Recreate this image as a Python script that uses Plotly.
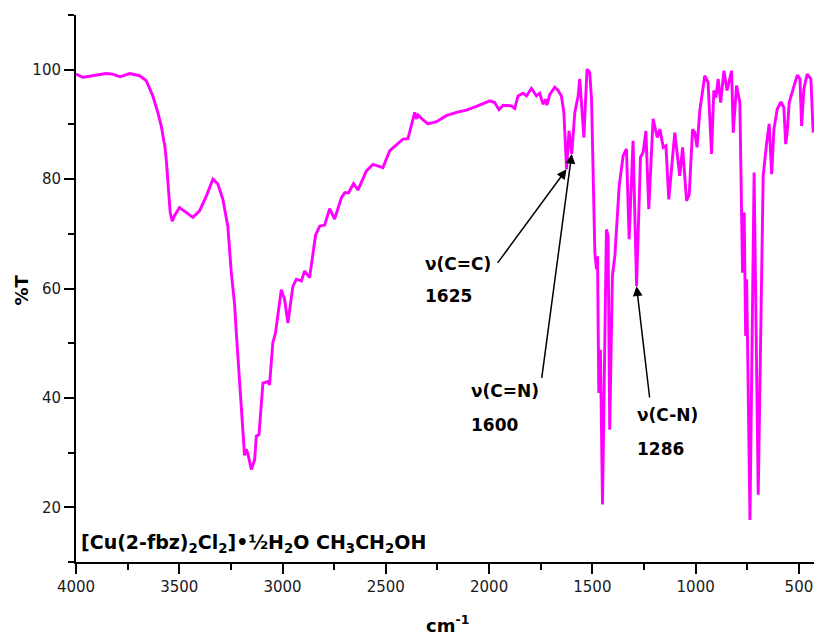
import plotly.graph_objects as go

# FT-IR spectrum of the copper complex: wavenumber (cm-1) and transmittance (%T)
wavenumber = [
    4000, 3967, 3935, 3902, 3854, 3822, 3786, 3741, 3692, 3660, 3628, 3604, 3587, 3575,
    3571, 3563, 3555, 3544, 3534, 3523, 3499, 3466, 3434, 3402, 3369, 3337, 3313, 3289,
    3265, 3248, 3232, 3224, 3208, 3195, 3187, 3184, 3176, 3168, 3151, 3135, 3127, 3114,
    3095, 3071, 3063, 3047, 3034, 3022, 3006, 2990, 2974, 2950, 2933, 2909, 2893, 2869,
    2840, 2820, 2796, 2772, 2748, 2715, 2699, 2680, 2656, 2635, 2594, 2562, 2538, 2514,
    2481, 2449, 2417, 2393, 2376, 2360, 2352, 2344, 2328, 2296, 2255, 2207, 2158, 2110,
    2061, 1997, 1973, 1952, 1932, 1892, 1876, 1860, 1836, 1819, 1795, 1771, 1755, 1739,
    1725, 1720, 1706, 1682, 1666, 1650, 1638, 1625, 1613, 1600, 1585, 1569, 1561, 1541,
    1526, 1513, 1504, 1496, 1488, 1480, 1475, 1469, 1461, 1451, 1440, 1432, 1424, 1416,
    1403, 1391, 1370, 1351, 1335, 1322, 1303, 1286, 1267, 1254, 1241, 1227, 1206, 1186,
    1173, 1157, 1144, 1130, 1101, 1077, 1063, 1044, 1031, 1015, 1004, 993, 980, 956,
    940, 923, 912, 902, 891, 879, 863, 848, 826, 818, 802, 786, 773, 765,
    758, 753, 737, 717, 697, 673, 656, 644, 632, 621, 605, 587, 573, 564,
    557, 547, 528, 508, 495, 487, 476, 460, 442, 431,
]
transmittance = [
    99.2, 98.6, 98.8, 99.0, 99.3, 99.2, 98.7, 99.3, 98.9, 98.0, 95.2, 92.2, 89.7, 87.0,
    86.4, 83.6, 78.8, 73.9, 72.3, 73.3, 74.8, 73.9, 73.0, 74.2, 76.9, 80.0, 79.1, 76.3,
    71.4, 62.9, 57.0, 52.0, 42.1, 34.8, 29.9, 29.5, 30.6, 29.8, 26.9, 28.7, 33.0, 33.3,
    42.7, 43.0, 42.4, 50.1, 51.9, 55.6, 59.8, 58.0, 53.7, 60.4, 61.7, 61.4, 63.2, 62.0,
    69.8, 71.4, 71.6, 74.6, 72.7, 76.6, 77.5, 77.5, 79.2, 78.0, 81.5, 82.7, 82.4, 82.1,
    85.2, 86.2, 87.3, 87.4, 89.7, 92.2, 91.0, 91.7, 91.1, 90.1, 90.5, 91.6, 92.2, 92.6,
    93.3, 94.3, 94.0, 92.7, 93.5, 93.4, 92.9, 95.2, 95.7, 95.2, 96.6, 95.2, 95.7, 93.7,
    94.6, 93.5, 95.5, 96.8, 96.2, 95.2, 92.2, 81.8, 88.8, 84.6, 92.2, 95.2, 98.3, 87.6,
    100.1, 99.5, 94.6, 80.6, 66.6, 63.5, 65.9, 40.9, 48.8, 20.5, 47.0, 70.8, 69.6, 34.2,
    62.3, 66.0, 78.8, 84.3, 85.5, 69.0, 87.0, 60.4, 84.0, 84.9, 88.8, 74.5, 91.0, 87.6,
    89.1, 85.8, 86.1, 76.3, 88.5, 80.6, 85.8, 76.0, 77.2, 89.1, 88.5, 85.8, 92.5, 98.9,
    97.7, 84.6, 96.2, 94.9, 98.3, 94.0, 99.8, 96.2, 99.8, 88.5, 97.1, 94.0, 62.9, 73.9,
    51.3, 61.7, 17.7, 81.2, 22.3, 80.6, 86.7, 90.1, 80.9, 89.1, 92.8, 94.1, 93.1, 86.4,
    88.5, 94.0, 96.5, 99.0, 98.3, 89.7, 96.5, 99.2, 98.3, 88.5,
]

# Assigned bands: label, wavenumber, tail of the arrow (wavenumber, %T), text anchor
band_labels = ["\u03bd(C=C)", "\u03bd(C=N)", "\u03bd(C-N)"]
band_positions = [1625, 1600, 1286]
arrow_tails = [(1964, 64.4), (1746, 43.4), (1222, 39.8)]
label_anchor = [(2322, 64.4, 58.6), (2098, 41.2, 35.1), (1296, 36.8, 30.7)]

compound = ("[Cu(2-fbz)<sub>2</sub>Cl<sub>2</sub>]\u2022\u00bdH<sub>2</sub>O "
            "CH<sub>3</sub>CH<sub>2</sub>OH")

FONT = "DejaVu Sans"
MAGENTA = "#ff00ff"

fig = go.Figure()
fig.add_trace(go.Scatter(
    x=wavenumber, y=transmittance, mode="lines",
    line=dict(color=MAGENTA, width=2.9),
    hoverinfo="skip", showlegend=False,
))

def t_at(wn):
    return transmittance[wavenumber.index(wn)]

for label, pos, (tx, ty), (lx, ly1, ly2) in zip(band_labels, band_positions,
                                                 arrow_tails, label_anchor):
    fig.add_annotation(
        x=pos, y=t_at(pos), ax=tx, ay=ty, axref="x", ayref="y",
        text="", showarrow=True, arrowhead=2, arrowsize=1.3, arrowwidth=1.5,
        arrowcolor="black", standoff=0,
    )
    fig.add_annotation(x=lx, y=ly1, text=f"<b>{label}</b>", showarrow=False,
                       xanchor="left", yanchor="middle",
                       font=dict(family=FONT, size=17, color="black"))
    fig.add_annotation(x=lx, y=ly2, text=f"<b>{pos}</b>", showarrow=False,
                       xanchor="left", yanchor="middle",
                       font=dict(family=FONT, size=17, color="black"))

fig.add_annotation(x=3985, y=13.4, text=f"<b>{compound}</b>", showarrow=False,
                   xanchor="left", yanchor="middle",
                   font=dict(family=FONT, size=19, color="black"))

# axis titles
fig.add_annotation(x=0.504, y=-0.113, xref="paper", yref="paper",
                   text="<b>cm<sup>-1</sup></b>", showarrow=False,
                   xanchor="center", yanchor="middle",
                   font=dict(family=FONT, size=18, color="black"))
fig.add_annotation(x=-0.074, y=0.497, xref="paper", yref="paper",
                   text="<b>%T</b>", showarrow=False, textangle=-90,
                   xanchor="center", yanchor="middle",
                   font=dict(family=FONT, size=18, color="black"))

axis_common = dict(
    showline=True, linecolor="black", linewidth=2, mirror=False,
    showgrid=False, zeroline=False, ticks="outside", ticklen=10, tickwidth=2,
    tickcolor="black", tickfont=dict(family=FONT, size=15, color="#1a1a1a"),
)
fig.update_xaxes(range=[4000, 427], tick0=0, dtick=500,
                 minor=dict(ticks="outside", ticklen=6, tickwidth=2,
                            tickcolor="black", dtick=250, tick0=0),
                 **axis_common)
fig.update_yaxes(range=[10, 110], tick0=0, dtick=20,
                 minor=dict(ticks="outside", ticklen=6, tickwidth=2,
                            tickcolor="black", dtick=10, tick0=0),
                 **axis_common)

fig.update_layout(
    width=814, height=636,
    margin=dict(l=76, r=0, t=15, b=74),
    paper_bgcolor="white", plot_bgcolor="white",
    font=dict(family=FONT),
)

fig.write_html("out.html")
